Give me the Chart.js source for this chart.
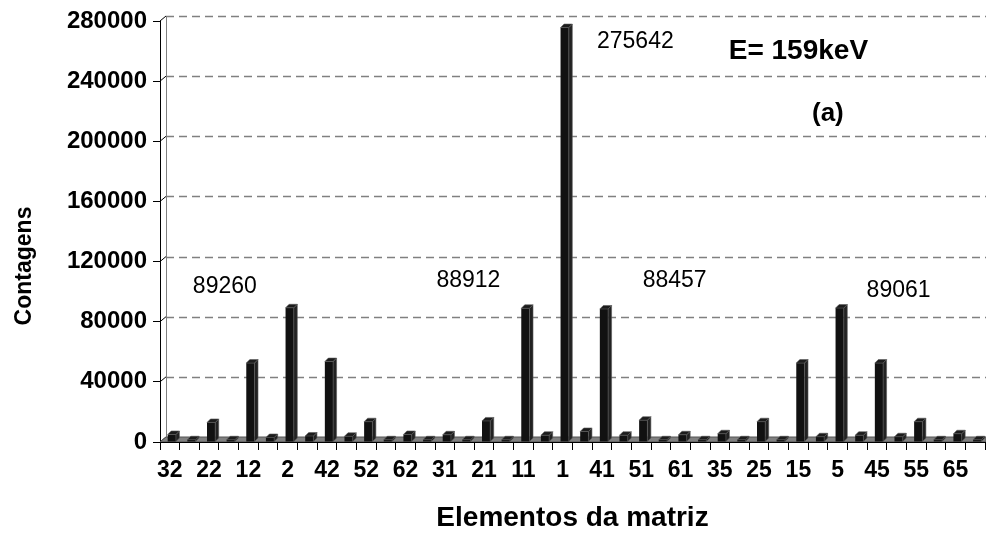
<!DOCTYPE html>
<html>
<head>
<meta charset="utf-8">
<script src="https://cdn.jsdelivr.net/npm/chart.js@4/dist/chart.umd.min.js"></script>
<style>
html,body{margin:0;padding:0;background:#fff;}
#wrap{width:986px;height:538px;}
</style>
</head>
<body>
<div id="wrap"><canvas id="c" width="986" height="538"></canvas></div>
<script>
// ---- data ----
// every other category label is hidden in the reference (Excel skipped them)
const categories = ['32','','22','','12','','2','','42','','52','','62','',
                    '31','','21','','11','','1','','41','','51','','61','',
                    '35','','25','','15','','5','','45','','55','','65',''];
const counts = [5000,1500,13000,1500,52500,3000,89260,4000,53500,3800,13500,1500,5000,1500,
                4800,1500,14000,1500,88912,4500,275642,7000,88457,4500,14500,1500,4800,1500,
                5500,1500,13500,1500,52500,3500,89061,4500,52500,3500,13500,1500,5500,1500];
const yMin = 0, yMax = 280000, yStep = 40000;
const xTitle = 'Elementos da matriz';
const yTitle = 'Contagens';
const energyText = 'E= 159keV';
const panelText = '(a)';
// bars whose counts are written as text on the chart
const labelledBars = [20, 6, 18, 22, 34];

// ---- style / layout ----
const FONT = "'Liberation Sans', Arial, Helvetica, sans-serif";
const BACK = {dx: 6, dy: 5};
const BAR_D = 3.5;
const BAR_SHIFT = 2;
// annotation anchors in data units (category index, value)
const noteAnchors = {20:[23.7,266500], 6:[2.8,103000], 18:[15.2,107000], 22:[25.7,107000], 34:[37.1,100500]};

const excel3d = {
  id: 'excel3d',
  beforeDatasetsDraw(chart) {
    const {ctx, chartArea: a, scales: {y}} = chart;
    const W = chart.width;
    ctx.save();
    ctx.strokeStyle = '#808080';
    ctx.lineWidth = 1.7;
    ctx.setLineDash([8, 5]);
    y.ticks.forEach(t => {
      if (t.value === 0) return;
      const py = Math.round(y.getPixelForValue(t.value) - BACK.dy) + 0.5;
      ctx.beginPath(); ctx.moveTo(a.left + BACK.dx, py); ctx.lineTo(W, py); ctx.stroke();
    });
    ctx.setLineDash([]);
    ctx.lineWidth = 1;
    ctx.strokeStyle = '#808080';
    ctx.beginPath();
    ctx.moveTo(a.left + BACK.dx + 0.5, a.top - BACK.dy);
    ctx.lineTo(a.left + BACK.dx + 0.5, a.bottom - BACK.dy);
    ctx.stroke();
    ctx.strokeStyle = '#000';
    y.ticks.forEach(t => {
      const py = y.getPixelForValue(t.value);
      ctx.beginPath(); ctx.moveTo(a.left, py); ctx.lineTo(a.left + BACK.dx, py - BACK.dy); ctx.stroke();
    });
    ctx.fillStyle = '#808080';
    ctx.beginPath();
    ctx.moveTo(a.left, a.bottom);
    ctx.lineTo(W, a.bottom);
    ctx.lineTo(W, a.bottom - BACK.dy);
    ctx.lineTo(a.left + BACK.dx, a.bottom - BACK.dy);
    ctx.closePath();
    ctx.fill();
    ctx.strokeStyle = '#555';
    ctx.stroke();
    ctx.restore();
    ctx.save();
    ctx.translate(BAR_SHIFT, 0);
  },
  afterDatasetsDraw(chart) {
    const {ctx, chartArea: a} = chart;
    const meta = chart.getDatasetMeta(0);
    meta.data.forEach(el => {
      const {x, y, base, width} = el.getProps(['x', 'y', 'base', 'width'], true);
      const l = x - width / 2, r = x + width / 2, d = BAR_D;
      ctx.lineWidth = 0.6;
      ctx.strokeStyle = '#5a5a5a';
      ctx.fillStyle = '#222222';
      ctx.beginPath();
      ctx.moveTo(r, y); ctx.lineTo(r + d, y - d); ctx.lineTo(r + d, base - d); ctx.lineTo(r, base);
      ctx.closePath(); ctx.fill(); ctx.stroke();
      ctx.fillStyle = '#1c1c1c';
      ctx.beginPath();
      ctx.moveTo(l, y); ctx.lineTo(l + d, y - d); ctx.lineTo(r + d, y - d); ctx.lineTo(r, y);
      ctx.closePath(); ctx.fill(); ctx.stroke();
    });
    ctx.restore();
    ctx.save();
    ctx.strokeStyle = '#000';
    ctx.lineWidth = 1;
    ctx.beginPath(); ctx.moveTo(a.left, a.bottom + 0.5); ctx.lineTo(chart.width, a.bottom + 0.5); ctx.stroke();
    ctx.restore();
  },
  afterDraw(chart) {
    const {ctx, scales: {x, y}} = chart;
    ctx.save();
    ctx.fillStyle = '#000';
    ctx.textAlign = 'center';
    ctx.textBaseline = 'middle';
    ctx.font = '23px ' + FONT;
    labelledBars.forEach(i => {
      const [cx, cv] = noteAnchors[i];
      ctx.fillText(String(counts[i]), x.getPixelForValue(cx), y.getPixelForValue(cv));
    });
    ctx.font = 'bold 28px ' + FONT;
    ctx.fillText(energyText, x.getPixelForValue(32.0), y.getPixelForValue(259800));
    ctx.font = 'bold 26px ' + FONT;
    ctx.fillText(panelText, x.getPixelForValue(33.5), y.getPixelForValue(218500));
    ctx.translate(25, 266);
    ctx.rotate(-Math.PI / 2);
    ctx.font = 'bold 23px ' + FONT;
    ctx.fillText(yTitle, 0, 0);
    ctx.restore();
  }
};

new Chart(document.getElementById('c'), {
  type: 'bar',
  data: {
    labels: categories,
    datasets: [{
      data: counts,
      backgroundColor: '#111111',
      borderWidth: 0,
      barPercentage: 0.42,
      categoryPercentage: 1.0
    }]
  },
  options: {
    responsive: false,
    animation: false,
    layout: {padding: {top: 21, right: 1, left: 0, bottom: 0}},
    plugins: {legend: {display: false}, tooltip: {enabled: false}},
    scales: {
      x: {
        offset: true,
        grid: {display: true, offset: true, drawOnChartArea: false, drawTicks: true, tickLength: 8, color: '#000'},
        border: {display: true, color: '#000', width: 1},
        ticks: {autoSkip: false, maxRotation: 0, minRotation: 0, color: '#000', padding: 7,
                font: {family: FONT, size: 23, weight: 'bold'}},
        title: {display: true, text: xTitle, color: '#000', padding: {top: 0, bottom: 3},
                font: {family: FONT, size: 28, weight: 'bold'}},
        afterFit(s) { s.height = 96; }
      },
      y: {
        min: yMin, max: yMax,
        grid: {display: true, drawOnChartArea: false, drawTicks: true, tickLength: 7, color: '#000'},
        border: {display: true, color: '#000', width: 1},
        ticks: {stepSize: yStep, color: '#000', padding: 6,
                callback: v => String(v),
                font: {family: FONT, size: 24, weight: 'bold'}},
        afterFit(s) { s.width = 160; }
      }
    }
  },
  plugins: [excel3d]
});
</script>
</body>
</html>
